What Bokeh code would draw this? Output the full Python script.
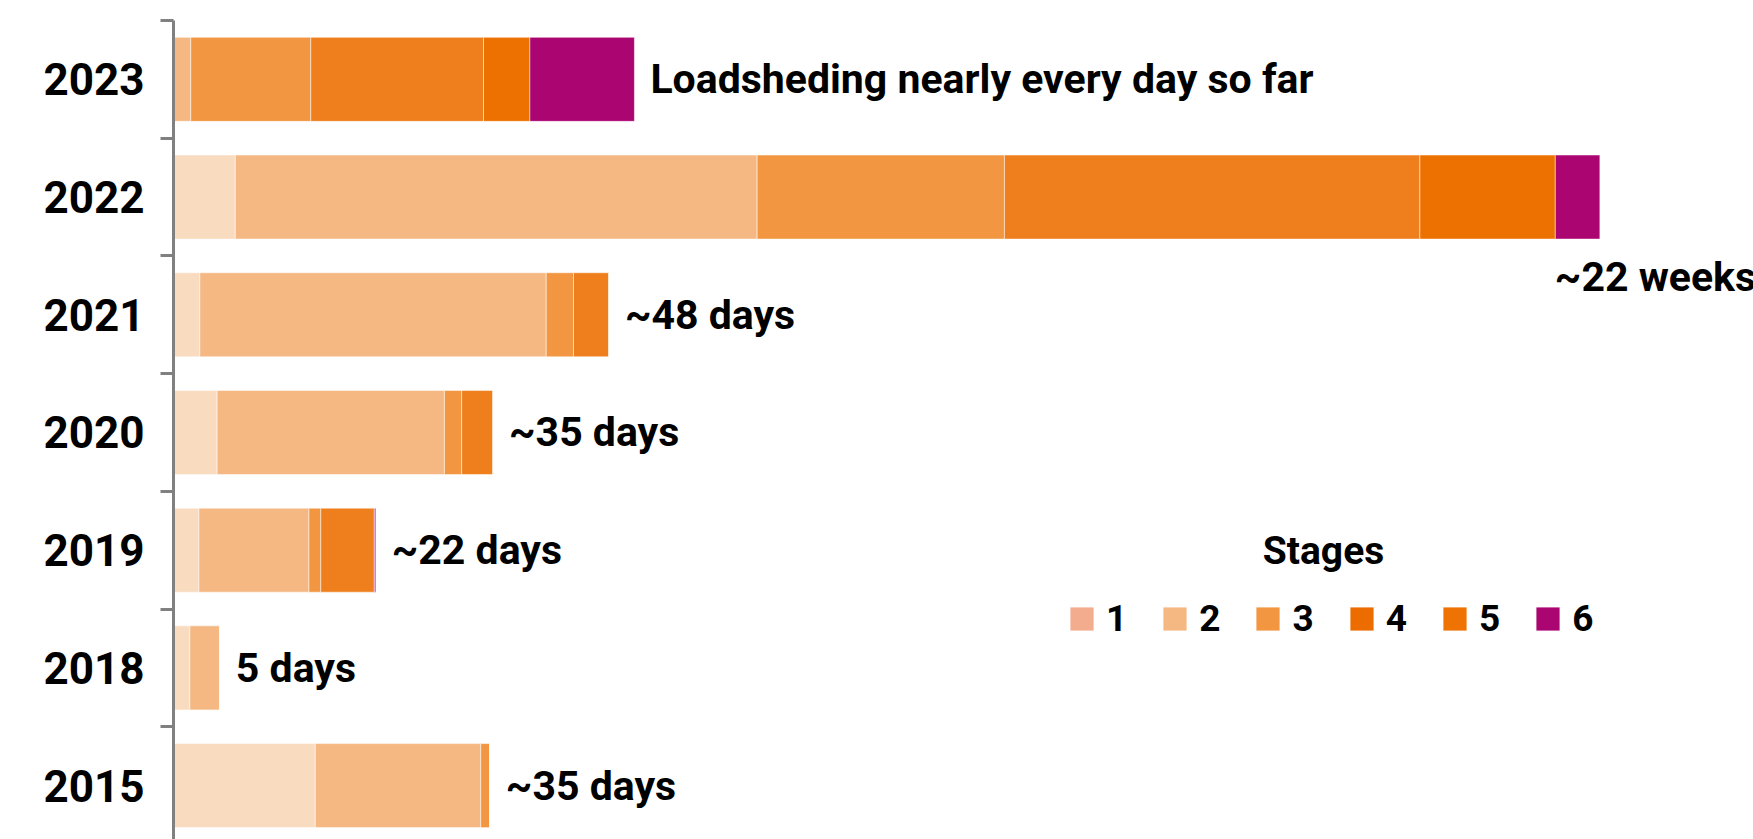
from bokeh.plotting import figure
from bokeh.models import (ColumnDataSource, Range1d, FixedTicker, Label)
from bokeh.core.properties import value
from bokeh.embed import file_html
from bokeh.resources import INLINE

# ---- data (days of loadshedding per stage) ----
years = ["2023", "2022", "2021", "2020", "2019", "2018", "2015"]
stage1 = [0.0, 6.8, 2.9, 4.8, 2.8, 1.8, 15.6]
stage2 = [1.9, 57.4, 38.1, 25.0, 12.1, 3.3, 18.2]
stage3 = [13.2, 27.2, 3.0, 1.9, 1.3, 0.0, 1.0]
stage4 = [19.0, 45.7, 3.9, 3.45, 5.9, 0.0, 0.0]
stage5 = [5.1, 14.9, 0.0, 0.0, 0.0, 0.0, 0.0]
stage6 = [11.5, 4.9, 0.0, 0.0, 0.15, 0.0, 0.0]
bar_labels = ["Loadsheding nearly every day so far", "", "~48 days", "~35 days",
              "~22 days", "5 days", "~35 days"]
label_2022 = "~22 weeks"
stage_names = ["1", "2", "3", "4", "5", "6"]

bar_colors = ["#F9DBC0", "#F5B883", "#F29641", "#EE7F1C", "#ED7100", "#AB0571"]
legend_colors = ["#F4AC8F", "#F6B882", "#F29641", "#EC6C00", "#EE7303", "#AB0571"]

FONT = "Roboto"
FS = "41px"

n = len(years)
ypos = [n - 1 - i for i in range(n)]
stages = [stage1, stage2, stage3, stage4, stage5, stage6]
keys = ["s1", "s2", "s3", "s4", "s5", "s6"]
totals = [sum(s[i] for s in stages) for i in range(n)]

data = dict(y=ypos, year=years, total=totals, label=bar_labels)
for k, s in zip(keys, stages):
    data[k] = s
source = ColumnDataSource(data)

p = figure(width=1753, height=839, output_backend="svg", toolbar_location=None,
           x_range=Range1d(0, 173.8), y_range=Range1d(-0.458, n - 0.5),
           x_axis_location=None, y_axis_location="left",
           min_border_left=173, min_border_right=0, min_border_top=20, min_border_bottom=0)
p.outline_line_color = None
p.grid.visible = False

renderers = p.hbar_stack(keys, y="y", height=0.714, color=bar_colors, source=source,
                         line_color="white", line_width=1, line_alpha=0.5)

# labels at the end of each bar
p.text(x="total", y="y", text="label", source=source, x_offset=16,
       text_align="left", text_baseline="middle", text_font=value(FONT),
       text_font_style="bold", text_font_size=FS, text_color="black")

idx22 = years.index("2022")
src22 = ColumnDataSource(dict(x=[totals[idx22]], y=[ypos[idx22]], t=[label_2022]))
p.text(x="x", y="y", text="t", source=src22, x_offset=-45, y_offset=80,
       text_align="left", text_baseline="middle", text_font=value(FONT),
       text_font_style="bold", text_font_size=FS, text_color="black")

# y axis: labels at category centres, ticks at boundaries
ax = p.yaxis[0]
ax.ticker = FixedTicker(ticks=ypos, minor_ticks=[v + 0.5 for v in range(-1, n)])
ax.major_label_overrides = {y: yr for y, yr in zip(ypos, years)}
ax.major_tick_out = 0
ax.major_tick_in = 0
ax.minor_tick_out = 13
ax.minor_tick_in = 0
ax.minor_tick_line_width = 3
ax.minor_tick_line_color = "#808080"
ax.axis_line_color = "#808080"
ax.axis_line_width = 3
ax.major_label_standoff = 16
ax.major_label_text_font = FONT
ax.major_label_text_font_style = "bold"
ax.major_label_text_font_size = "44px"
ax.major_label_text_color = "black"

# legend swatches: a proxy renderer with no drawable geometry (NaN), one row per stage
nan = float("nan")
leg_src = ColumnDataSource(dict(stage=stage_names, color=legend_colors,
                                v=[nan] * len(stage_names)))
p.quad(left="v", right="v", top="v", bottom="v", fill_color="color", line_color=None,
       source=leg_src, legend_field="stage")
legend = p.legend[0]
legend.orientation = "horizontal"
legend.location = (894, 199)
legend.glyph_width = 29
legend.glyph_height = 29
legend.label_standoff = 10
legend.spacing = 33
legend.padding = 0
legend.margin = 0
legend.border_line_color = None
legend.background_fill_alpha = 0
legend.label_text_font = FONT
legend.label_text_font_style = "bold"
legend.label_text_font_size = "37px"
legend.label_text_color = "black"

p.add_layout(Label(x=1150, y=289, x_units="screen", y_units="screen", text="Stages",
                   text_align="center", text_baseline="middle", text_font=FONT,
                   text_font_style="bold", text_font_size="39px", text_color="black"))

open("out.html", "w").write(file_html(p, INLINE))
